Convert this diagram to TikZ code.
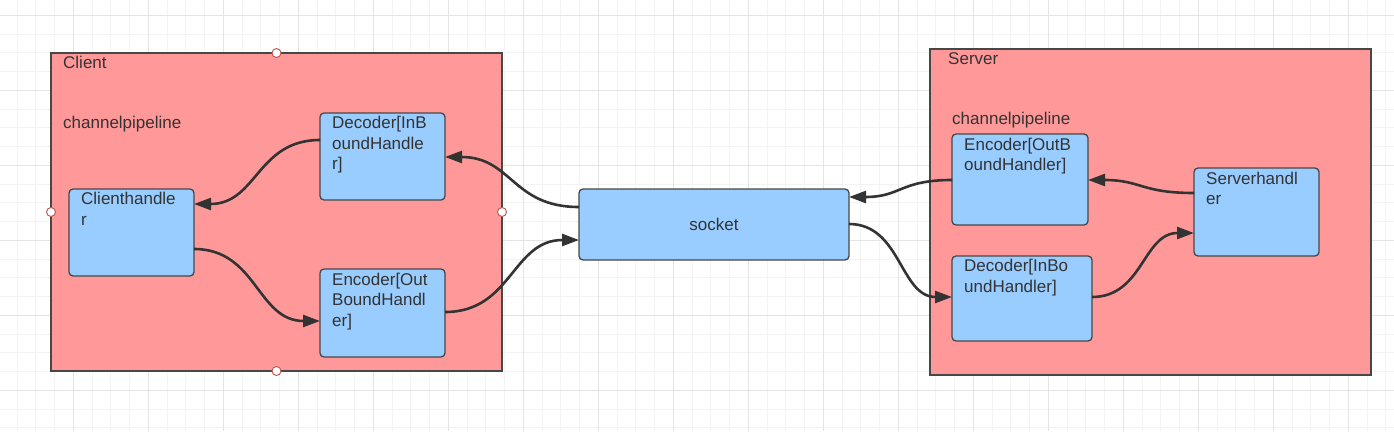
\documentclass[tikz,border=0pt]{standalone}
\usepackage{fontspec}
\setmainfont{Liberation Sans}
\usetikzlibrary{arrows.meta,calc}
\definecolor{txt}{HTML}{333333}
\definecolor{edge}{HTML}{333333}
\definecolor{pinkfill}{HTML}{FF9999}
\definecolor{bluefill}{HTML}{99CCFF}
\definecolor{gridminor}{HTML}{F3F3F3}
\definecolor{gridmajor}{HTML}{E4E4E4}
\definecolor{handlered}{HTML}{B85450}
\tikzset{
  container/.style={draw=edge!90!white, line width=1.4pt, fill=pinkfill, rectangle, inner sep=0pt, outer sep=0pt, anchor=north west},
  handlerbox/.style={draw=edge!90!white, line width=1.3pt, fill=bluefill, rectangle, rounded corners=4pt, inner sep=0pt, outer sep=0pt, anchor=north west},
  boxtext/.style={anchor=north west, inner sep=0pt, align=left, text=txt, font=\fontsize{17}{20.7}\selectfont},
  plaintext/.style={anchor=base west, inner sep=0pt, text=txt, font=\fontsize{17}{20.7}\selectfont},
  flow/.style={draw=edge, line width=2.6pt, -{Triangle[length=17pt,width=12pt]}},
  handle/.style={circle, draw=handlered, fill=white, line width=0.9pt, minimum size=9pt, inner sep=0pt}
}
\begin{document}
\begin{tikzpicture}[x=1pt,y=-1pt]
\useasboundingbox (0,0) rectangle (1394,431);
\fill[white] (0,0) rectangle (1394,431);
% grid
\foreach \i in {0,...,75} \draw[gridminor, line width=1pt] ({-1.7+18.75*\i},0) -- ++(0,431);
\foreach \j in {0,...,23} \draw[gridminor, line width=1pt] (0,{15.3+18.75*\j}) -- ++(1394,0);
\foreach \i in {0,...,19} \draw[gridmajor, line width=1pt] ({-1.7+75*\i},0) -- ++(0,431);
\foreach \j in {0,...,5} \draw[gridmajor, line width=1pt] (0,{15.3+75*\j}) -- ++(1394,0);

% containers
\node[container, minimum width=451pt, minimum height=318pt] (client) at (51,53) {};
\node[container, minimum width=441pt, minimum height=326pt] (server) at (930,49) {};

\node[plaintext] (clientlbl) at (63,68) {Client};
\node[plaintext] (clientpipe) at (63,128) {channelpipeline};
\node[plaintext] (serverlbl) at (948,64) {Server};
\node[plaintext] (serverpipe) at (952,124) {channelpipeline};

% handler boxes
\node[handlerbox, minimum width=125pt, minimum height=87pt] (ch) at (69,189) {};
\node[handlerbox, minimum width=125pt, minimum height=87pt] (cdec) at (320,113) {};
\node[handlerbox, minimum width=125pt, minimum height=88pt] (cenc) at (320,269) {};
\node[handlerbox, minimum width=270pt, minimum height=71pt] (sock) at (579,189) {};
\node[handlerbox, minimum width=136pt, minimum height=91pt] (senc) at (952,134) {};
\node[handlerbox, minimum width=140pt, minimum height=85pt] (sdec) at (952,256) {};
\node[handlerbox, minimum width=125pt, minimum height=88pt] (sh) at (1194,168) {};

\node[boxtext] (chtxt) at ($(ch.north west)+(12,3)$) {Clienthandle\\r};
\node[boxtext] (cdectxt) at ($(cdec.north west)+(12,3)$) {Decoder[InB\\oundHandle\\r]};
\node[boxtext] (cenctxt) at ($(cenc.north west)+(12,3.5)$) {Encoder[Out\\BoundHandl\\er]};
\node[text=txt, inner sep=0pt, font=\fontsize{17}{20.7}\selectfont, anchor=base] (socktxt) at (714,230.5) {socket};
\node[boxtext] (senctxt) at ($(senc.north west)+(12,3.5)$) {Encoder[OutB\\oundHandler]};
\node[boxtext] (sdectxt) at ($(sdec.north west)+(12,3)$) {Decoder[InBo\\undHandler]};
\node[boxtext] (shtxt) at ($(sh.north west)+(12,3.5)$) {Serverhandl\\er};

% selection handles
\node[handle] (hn) at (client.north) {};
\node[handle] (hw) at (client.west) {};
\node[handle] (he) at (client.east) {};
\node[handle] (hs) at (client.south) {};

% connectors
\draw[flow] ($(cdec.north west)+(0,27)$) .. controls +(-63,0) and +(63,0) .. ($(ch.north east)+(0,15)$);
\draw[flow] ($(ch.north east)+(0,60)$) .. controls +(63,0) and +(-63,0) .. ($(cenc.north west)+(0,52)$);
\draw[flow] ($(sock.north west)+(0,18)$) .. controls +(-67,0) and +(67,0) .. ($(cdec.north east)+(0,44)$);
\draw[flow] ($(cenc.north east)+(0,43)$) .. controls +(67,0) and +(-67,0) .. ($(sock.north west)+(0,51)$);
\draw[flow] ($(senc.north west)+(0,46)$) .. controls +(-52,0) and +(52,0) .. ($(sock.north east)+(0,8)$);
\draw[flow] ($(sock.north east)+(0,35)$) .. controls +(52,0) and +(-52,0) .. ($(sdec.north west)+(0,41)$);
\draw[flow] ($(sh.north west)+(0,25)$) .. controls +(-53,0) and +(53,0) .. ($(senc.north east)+(0,46)$);
\draw[flow] ($(sdec.north east)+(0,41)$) .. controls +(51,0) and +(-51,0) .. ($(sh.north west)+(0,65)$);
\end{tikzpicture}
\end{document}
